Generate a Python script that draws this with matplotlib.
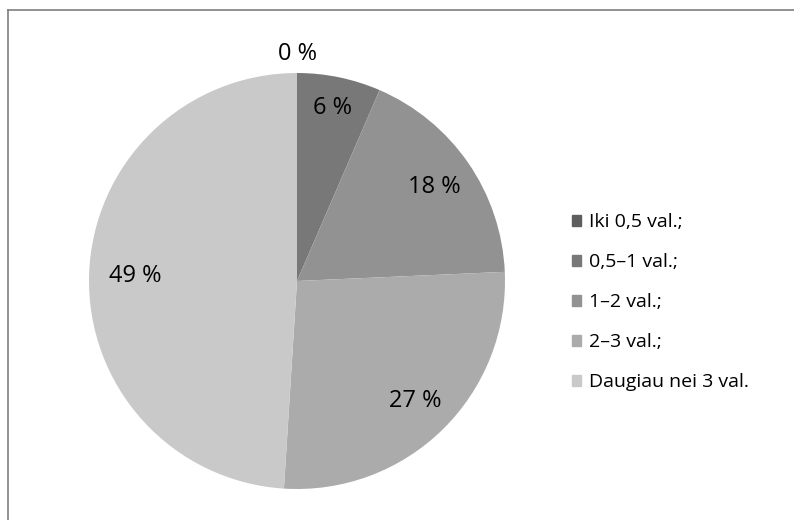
import matplotlib.pyplot as plt
import matplotlib.patches as mpatches
import numpy as np

plt.rcParams['font.family'] = ['Open Sans', 'DejaVu Sans']

categories = ['Iki 0,5 val.;', '0,5–1 val.;', '1–2 val.;', '2–3 val.;', 'Daugiau nei 3 val.']
values = [0, 6.5, 17.8, 26.7, 49.0]
pct_labels = ['0 %', '6 %', '18 %', '27 %', '49 %']

colors = ['#5e5e5e', '#787878', '#929292', '#ababab', '#c9c9c9']
label_r = [1.09, 0.85, 0.80, 0.81, 0.78]

W, H = 794, 520
fig = plt.figure(figsize=(W / 100, H / 100), dpi=100)

# pie center (297, 281) px, radius 208 px
cx, cy, r = 297, 281, 208
ax = fig.add_axes([(cx - r) / W, (H - cy - r) / H, 2 * r / W, 2 * r / H])
wedges, _ = ax.pie(values, colors=colors, startangle=90, counterclock=False,
                   wedgeprops=dict(linewidth=0))
ax.set_xlim(-1, 1)
ax.set_ylim(-1, 1)
ax.set_aspect('equal')
ax.axis('off')

for w, txt, d in zip(wedges, pct_labels, label_r):
    ang = np.deg2rad((w.theta1 + w.theta2) / 2)
    ax.text(d * np.cos(ang), d * np.sin(ang), txt, ha='center', va='center',
            fontsize=17, color='#000000')

handles = [mpatches.Patch(color=c, label=l) for c, l in zip(colors, categories)]
fig.legend(handles=handles, loc='center left', bbox_to_anchor=(562 / W, 1 - 302 / H),
           frameon=False, fontsize=14, handlelength=0.5, handleheight=0.5,
           handletextpad=0.4, labelspacing=1.13, borderpad=0)

# outer chart border (top and left visible)
fig.add_artist(plt.Line2D([7.5 / W, 7.5 / W], [0, 1 - 10 / H], transform=fig.transFigure,
                          color='#7f7f7f', linewidth=1.2))
fig.add_artist(plt.Line2D([7.5 / W, 1], [1 - 10 / H, 1 - 10 / H], transform=fig.transFigure,
                          color='#7f7f7f', linewidth=1.2))

fig.savefig('out.png', dpi=100)
